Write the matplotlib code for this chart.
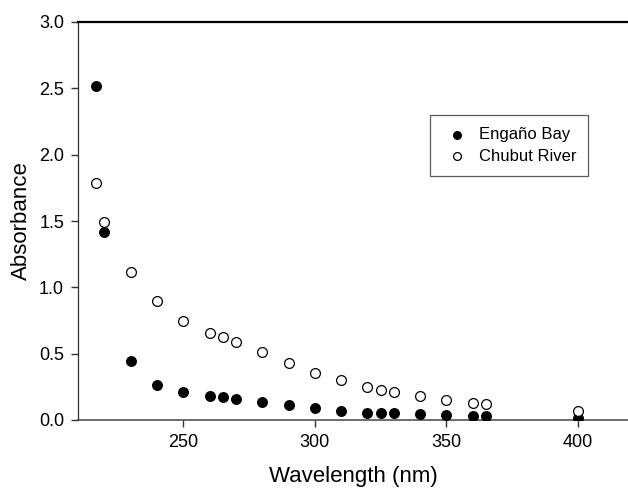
import matplotlib
matplotlib.use("Agg")
import matplotlib.pyplot as plt

# wavelengths (nm) sampled for both sites
wavelength = [217, 220, 230, 240, 250, 260, 265, 270, 280, 290, 300,
              310, 320, 325, 330, 340, 350, 360, 365, 400]

# absorbance
engano_bay = [2.52, 1.42, 0.445, 0.265, 0.21, 0.183, 0.171, 0.161, 0.136, 0.111, 0.087,
              0.069, 0.055, 0.055, 0.053, 0.043, 0.035, 0.030, 0.030, 0.013]
chubut_river = [1.79, 1.49, 1.116, 0.90, 0.747, 0.656, 0.624, 0.59, 0.515, 0.432, 0.358,
                0.298, 0.251, 0.229, 0.214, 0.183, 0.153, 0.13, 0.12, 0.068]

plt.rcParams["font.family"] = ["Liberation Sans", "DejaVu Sans"]

fig = plt.figure(figsize=(6.28, 4.88), dpi=100)
ax = fig.add_axes([78 / 628, 1 - 420 / 488, 1 - 78 / 628, 398 / 488])

ax.scatter(wavelength, engano_bay, s=50, facecolor="black", edgecolor="black",
           linewidth=0.8, label="Engaño Bay", zorder=3)
ax.scatter(wavelength, chubut_river, s=50, facecolor="white", edgecolor="black",
           linewidth=0.9, label="Chubut River", zorder=3)

ax.set_xlim(210, 419)
ax.set_ylim(0, 3.0)
ax.set_xticks([250, 300, 350, 400])
ax.set_yticks([0.0, 0.5, 1.0, 1.5, 2.0, 2.5, 3.0])
ax.set_yticklabels(["0.0", "0.5", "1.0", "1.5", "2.0", "2.5", "3.0"])
ax.tick_params(direction="out", length=5, width=1, color="#333333", labelsize=13, pad=5)

ax.spines["right"].set_visible(False)
ax.spines["top"].set_linewidth(1.6)
ax.spines["top"].set_color("black")
ax.spines["left"].set_linewidth(0.9)
ax.spines["left"].set_color("#333333")
ax.spines["bottom"].set_linewidth(1.1)
ax.spines["bottom"].set_color("#444444")

ax.set_xlabel("Wavelength (nm)", fontsize=16, labelpad=11)
ax.set_ylabel("Absorbance", fontsize=16, labelpad=5)

leg = ax.legend(loc="upper left", bbox_to_anchor=(430 / 628, 1 - 115 / 488),
                bbox_transform=fig.transFigure, borderaxespad=0, frameon=True,
                fancybox=False, fontsize=12, handletextpad=0.4, borderpad=0.72,
                labelspacing=0.4, scatterpoints=1, handlelength=1.8,
                markerscale=0.8)
leg.get_frame().set_edgecolor("#333333")
leg.get_frame().set_linewidth(0.9)

fig.savefig("out.png", dpi=100)
